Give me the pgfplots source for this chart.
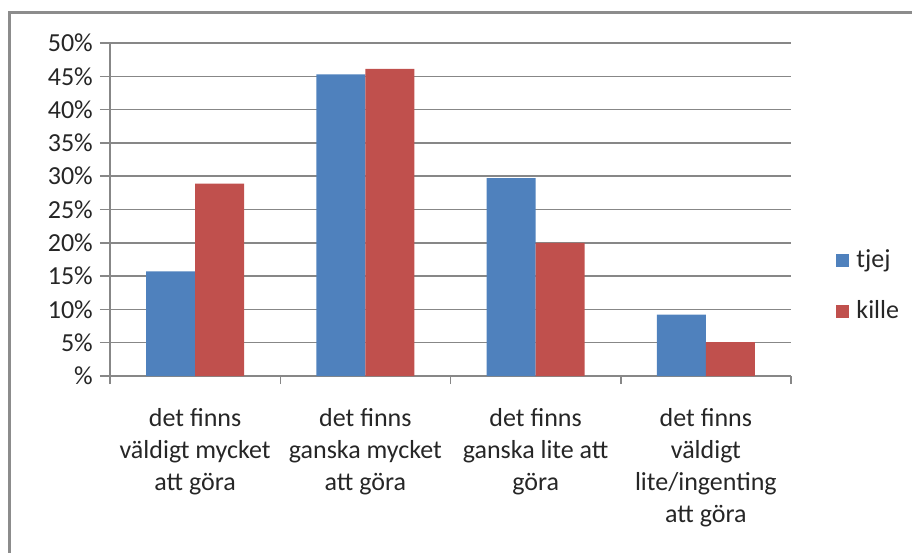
\documentclass[border=0pt]{standalone}
\usepackage{fontspec}
\setmainfont{Carlito}
\usepackage{pgfplots}
\pgfplotsset{compat=1.18}
\definecolor{tjej}{HTML}{4F81BD}
\definecolor{kille}{HTML}{C0504D}
\definecolor{gridc}{HTML}{878787}
\definecolor{framec}{HTML}{8C8C8C}
\begin{document}
\fontsize{26}{32}\selectfont
\begin{tikzpicture}
\path[use as bounding box] (0pt,0pt) rectangle (912pt,-553pt);
\draw[line width=2.5pt, color=framec] (9.5pt,-570pt) -- (9.5pt,-12.5pt) -- (930pt,-12.5pt);
\begin{axis}[at={(110pt,-376pt)}, anchor=south west, scale only axis,
  width=681pt, height=333pt,
  ymin=0, ymax=50, xmin=-0.5, xmax=3.5,
  ytick={0,5,...,50},
  yticklabels={\%,5\%,10\%,15\%,20\%,25\%,30\%,35\%,40\%,45\%,50\%},
  xtick={0,1,2,3},
  xticklabels={{det finns\\väldigt mycket\\att göra},{det finns\\ganska mycket\\att göra},{det finns\\ganska lite att\\göra},{det finns\\väldigt\\lite/ingenting\\att göra}},
  minor xtick={-0.5,0.5,1.5,2.5,3.5},
  major x tick style={draw=none},
  minor x tick style={draw=gridc, line width=1.5pt},
  minor tick length=8pt,
  major tick length=10pt,
  tick align=outside,
  ytick style={draw=gridc, line width=1.5pt},
  axis x line*=bottom, axis y line*=left,
  axis line style={draw=gridc, line width=1.5pt, -},
  ymajorgrids, grid style={draw=gridc, line width=1.5pt},
  tick label style={font=\fontsize{26}{32}\selectfont, text=black!85},
  yticklabel style={inner sep=0pt, xshift=-7pt},
  xticklabel style={align=center, inner sep=0pt, yshift=-22pt},
  ybar, bar width=49pt,
  legend style={at={(axis description cs:1.062,0.27)}, anchor=west, draw=none, fill=none,
    font=\fontsize{26}{32}\selectfont, text=black!85, row sep=29pt,
    nodes={inner sep=0pt}},
  legend cell align=left,
  legend image code/.code={\fill[#1] (0pt,-6.5pt) rectangle (13pt,6.5pt);},
  clip=false,
]
\addplot[fill=tjej, draw=none, bar shift=-24.5pt] coordinates {(0,15.7) (1,45.3) (2,29.7) (3,9.2)};
\addplot[fill=kille, draw=none, bar shift=24.5pt] coordinates {(0,28.9) (1,46.1) (2,20.0) (3,5.1)};
\legend{\hspace{7pt}tjej,\hspace{7pt}kille}
\end{axis}
\end{tikzpicture}
\end{document}
